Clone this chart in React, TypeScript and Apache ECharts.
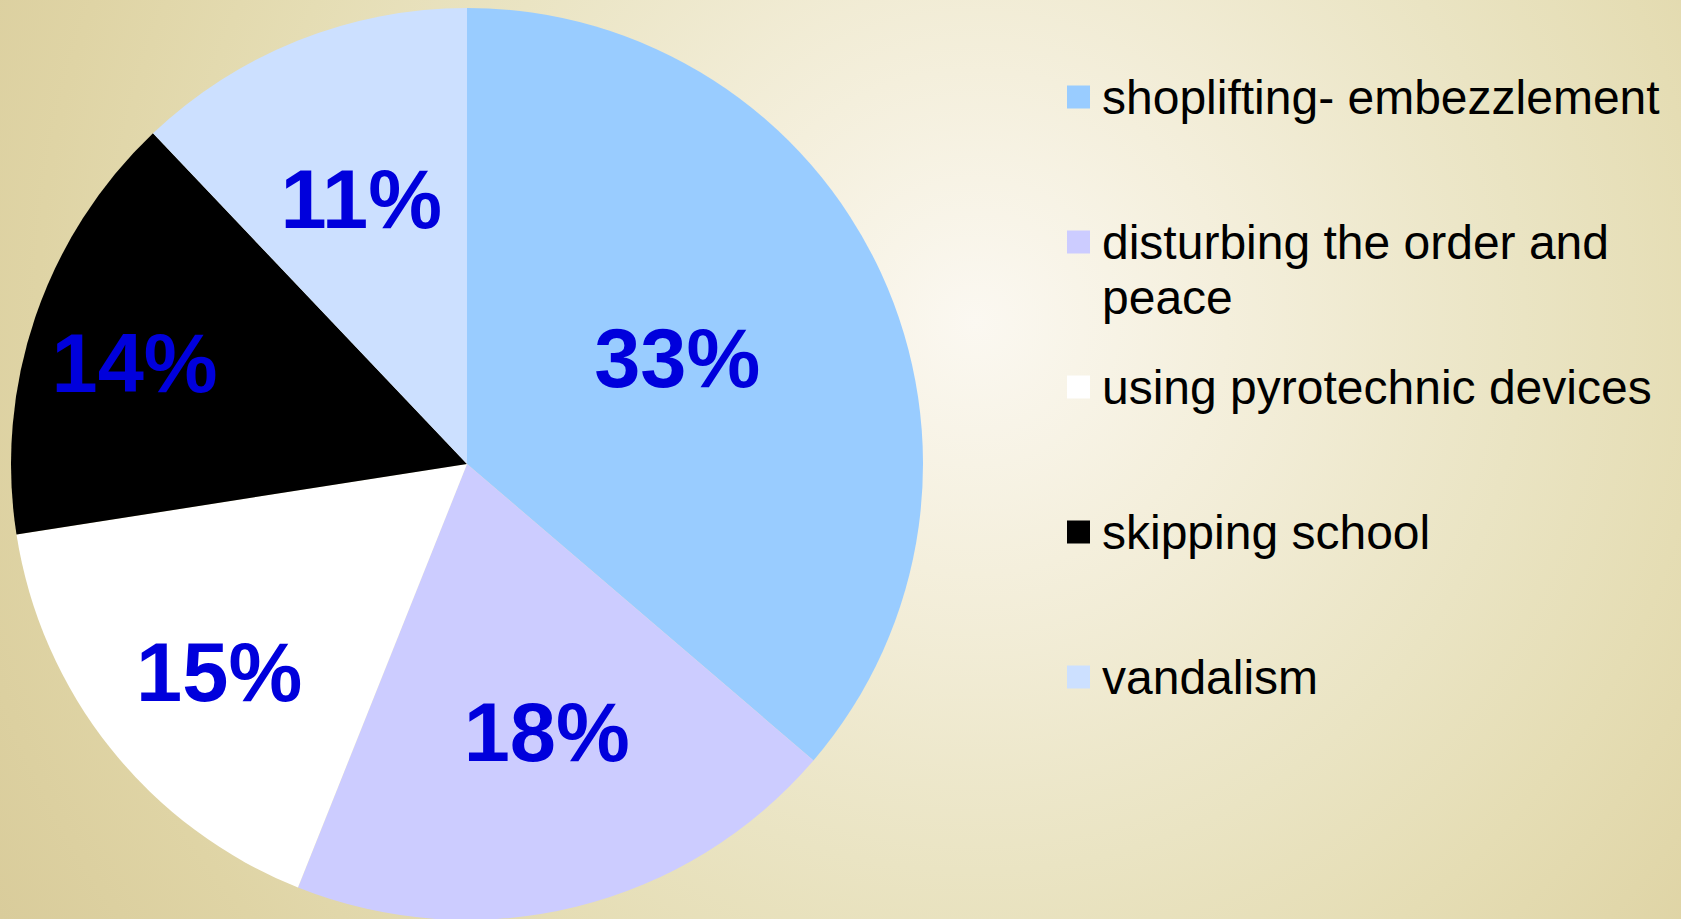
import React, { useEffect, useRef } from "react";
import * as echarts from "echarts";

const categories = [
  "shoplifting- embezzlement",
  "disturbing the order and peace",
  "using pyrotechnic devices",
  "skipping school",
  "vandalism",
];
const values = [33, 18, 15, 14, 11];
const sliceColors = ["#99CCFF", "#CCCCFF", "#FFFFFF", "#000000", "#CCE0FF"];

// layout settings (not data)
const CENTER: [number, number] = [467, 464];
const RADIUS = 456;
const labelRadiusFrac = [0.509, 0.6085, 0.7035, 0.755, 0.619];
const labelAngleShiftDeg = [-1.9, -2.7, -1.5, -2.0, 0];
const LEGEND_LEFT = 1067;
const LEGEND_FIRST_CENTER = 97;
const LEGEND_STEP = 145;
const LINE_H = 55;

export default function App() {
  const ref = useRef<HTMLDivElement>(null);

  useEffect(() => {
    if (!ref.current) return;
    const chart = echarts.init(ref.current, null, { renderer: "svg" });

    const total = values.reduce((a, b) => a + b, 0);
    const midAngles: number[] = [];
    let acc = 0;
    values.forEach((v) => {
      const a0 = (acc / total) * 2 * Math.PI;
      acc += v;
      const a1 = (acc / total) * 2 * Math.PI;
      midAngles.push((a0 + a1) / 2);
    });

    const legends = categories.map((name, i) => {
      const center = LEGEND_FIRST_CENTER + i * LEGEND_STEP;
      const twoLine = i === 1;
      return {
        data: [name],
        orient: "vertical",
        left: LEGEND_LEFT,
        top: twoLine ? center - (LINE_H * 3) / 2 : center - LINE_H / 2,
        padding: 0,
        itemWidth: 23,
        itemHeight: 23,
        icon: "rect",
        selectedMode: false,
        formatter: twoLine ? (n: string) => "\n" + n : "{name}",
        textStyle: {
          fontSize: 48,
          fontFamily: "Liberation Sans, Arial, sans-serif",
          color: "#000000",
          lineHeight: LINE_H,
          padding: [0, 0, 0, 7],
          width: 580,
          overflow: "break",
        },
      };
    });

    chart.setOption({
      animation: false,
      backgroundColor: "transparent",
      legend: legends,
      series: [
        {
          type: "pie",
          center: CENTER,
          radius: RADIUS,
          startAngle: 90,
          clockwise: true,
          avoidLabelOverlap: false,
          itemStyle: { borderWidth: 0 },
          label: {
            show: true,
            position: "inside",
            formatter: "{c}%",
            fontSize: 83,
            fontWeight: "bold",
            fontFamily: "Liberation Sans, Arial, sans-serif",
            color: "#0000DC",
          },
          labelLine: { show: false },
          labelLayout: (params: any) => {
            const i = params.dataIndex;
            const t = midAngles[i];
            const t2 = t + (labelAngleShiftDeg[i] * Math.PI) / 180;
            const r0 = 0.5 * RADIUS;
            const r1 = labelRadiusFrac[i] * RADIUS;
            return {
              dx: r1 * Math.sin(t2) - r0 * Math.sin(t),
              dy: -r1 * Math.cos(t2) + r0 * Math.cos(t),
            };
          },
          emphasis: { disabled: true },
          data: categories.map((name, i) => ({
            name,
            value: values[i],
            itemStyle: { color: sliceColors[i] },
          })),
        },
      ],
    });

    return () => chart.dispose();
  }, []);

  return (
    <div
      style={{
        position: "absolute",
        left: 0,
        top: 0,
        width: 1681,
        height: 919,
        background:
          "radial-gradient(circle farthest-corner at 58% 35%, #FBF8F1 0%, #F4EFDC 22%, #EAE4C3 48%, #E5DDB4 64%, #DFD4A5 82%, #D9CC9B 100%)",
      }}
    >
      <div ref={ref} style={{ width: 1681, height: 919 }} />
    </div>
  );
}
